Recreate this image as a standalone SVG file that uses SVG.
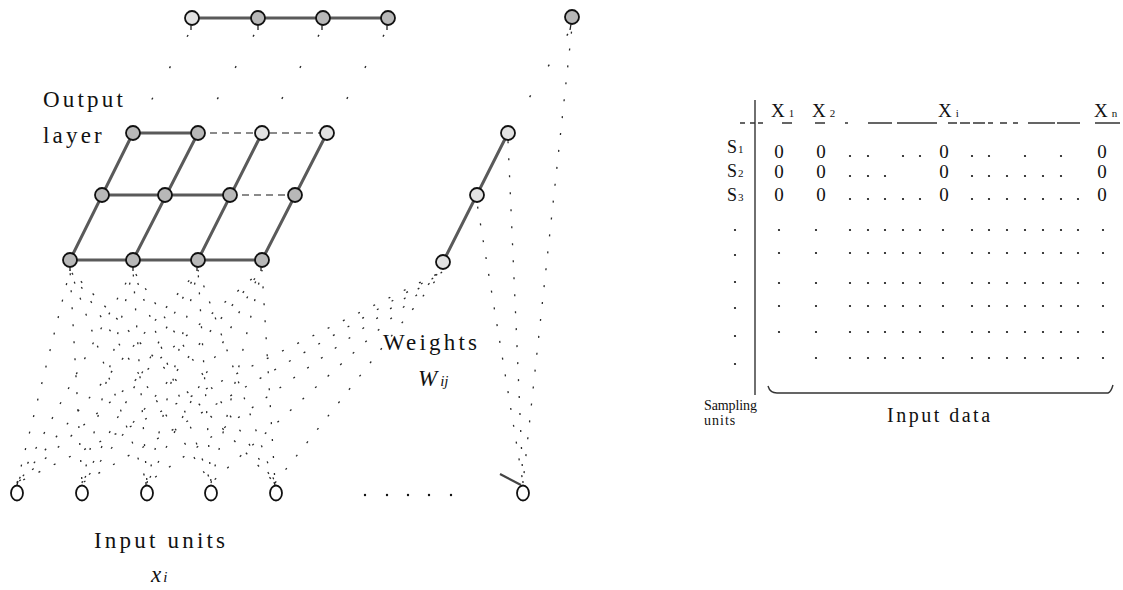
<svg xmlns="http://www.w3.org/2000/svg" width="1123" height="590" viewBox="0 0 1123 590">
<style>
.bg{fill:#fff}
.lbl{font-family:"Liberation Serif","DejaVu Serif",serif;fill:#111}
.big{font-size:23px;letter-spacing:3.2px}
.tb{font-size:19px}
.sb{font-size:18px}
.sub{font-size:11px}
.out{fill:#b8b8b8;stroke:#111;stroke-width:1.8}
.outl{fill:#e2e2e2;stroke:#111;stroke-width:1.8}
.inp{fill:#fff;stroke:#111;stroke-width:1.8}
.stem{stroke:#222;stroke-width:1.3;fill:none}
.link{stroke:#5a5a5a;stroke-width:3;stroke-linecap:round;fill:none}
.weak{stroke:#8a8a8a;stroke-width:2;stroke-dasharray:7 5;fill:none}
.w{stroke:#2a2a2a;stroke-width:1.3;stroke-dasharray:2 15;fill:none}
.sp{stroke:#2a2a2a;stroke-width:1.4;stroke-dasharray:2 34;fill:none}
.dot{fill:#111}
.rule{stroke:#333;stroke-width:1.4;fill:none}
</style>
<rect class="bg" x="0" y="0" width="1123" height="590"/>

<g id="connectors">
  <line class="link" x1="192" y1="18" x2="388" y2="18"/>
  <line class="sp" x1="192" y1="28" x2="133" y2="133" stroke-dashoffset="-8"/>
  <line class="sp" x1="258" y1="28" x2="198" y2="133" stroke-dashoffset="-8"/>
  <line class="sp" x1="323" y1="28" x2="262" y2="133" stroke-dashoffset="-8"/>
  <line class="sp" x1="388" y1="28" x2="327" y2="133" stroke-dashoffset="-8"/>
  <line class="sp" x1="572" y1="27" x2="508" y2="133" stroke-dashoffset="-8"/>
  <line class="link" x1="133" y1="133" x2="198" y2="133"/>
  <line class="weak" x1="198" y1="133" x2="327" y2="133"/>
  <line class="link" x1="102" y1="195" x2="230" y2="195"/>
  <line class="weak" x1="230" y1="195" x2="295" y2="195"/>
  <line class="link" x1="70" y1="260" x2="262" y2="260"/>
  <line class="link" x1="70" y1="260" x2="133" y2="133"/>
  <line class="link" x1="133" y1="260" x2="198" y2="133"/>
  <line class="link" x1="198" y1="260" x2="262" y2="133"/>
  <line class="link" x1="262" y1="260" x2="327" y2="133"/>
  <line class="link" x1="443" y1="262" x2="508" y2="133"/>
  <g id="weights">
    <line class="w" x1="17" y1="483" x2="70" y2="270"/>
    <line class="w" x1="17" y1="483" x2="133" y2="270" stroke-dashoffset="-5"/>
    <line class="w" x1="17" y1="483" x2="198" y2="270" stroke-dashoffset="-9"/>
    <line class="w" x1="17" y1="483" x2="262" y2="270" stroke-dashoffset="-3"/>
    <line class="w" x1="17" y1="483" x2="443" y2="271" stroke-dashoffset="-7"/>
    <line class="w" x1="82" y1="483" x2="70" y2="270" stroke-dashoffset="-4"/>
    <line class="w" x1="82" y1="483" x2="133" y2="270"/>
    <line class="w" x1="82" y1="483" x2="198" y2="270" stroke-dashoffset="-6"/>
    <line class="w" x1="82" y1="483" x2="262" y2="270" stroke-dashoffset="-11"/>
    <line class="w" x1="82" y1="483" x2="443" y2="271" stroke-dashoffset="-2"/>
    <line class="w" x1="147" y1="483" x2="70" y2="270" stroke-dashoffset="-8"/>
    <line class="w" x1="147" y1="483" x2="133" y2="270" stroke-dashoffset="-3"/>
    <line class="w" x1="147" y1="483" x2="198" y2="270"/>
    <line class="w" x1="147" y1="483" x2="262" y2="270" stroke-dashoffset="-6"/>
    <line class="w" x1="147" y1="483" x2="443" y2="271" stroke-dashoffset="-10"/>
    <line class="w" x1="211" y1="483" x2="70" y2="270" stroke-dashoffset="-12"/>
    <line class="w" x1="211" y1="483" x2="133" y2="270" stroke-dashoffset="-7"/>
    <line class="w" x1="211" y1="483" x2="198" y2="270" stroke-dashoffset="-2"/>
    <line class="w" x1="211" y1="483" x2="262" y2="270"/>
    <line class="w" x1="211" y1="483" x2="443" y2="271" stroke-dashoffset="-5"/>
    <line class="w" x1="275" y1="483" x2="70" y2="270" stroke-dashoffset="-6"/>
    <line class="w" x1="275" y1="483" x2="133" y2="270" stroke-dashoffset="-11"/>
    <line class="w" x1="275" y1="483" x2="198" y2="270" stroke-dashoffset="-4"/>
    <line class="w" x1="275" y1="483" x2="262" y2="270" stroke-dashoffset="-8"/>
    <line class="w" x1="275" y1="483" x2="443" y2="271"/>
    <line class="w" x1="523" y1="483" x2="477" y2="203" stroke-dashoffset="-6"/>
    <line class="w" x1="523" y1="483" x2="508" y2="141"/>
    <line class="w" x1="523" y1="483" x2="572" y2="27" stroke-dashoffset="-10"/>
    <line x1="500" y1="474" x2="521" y2="485" stroke="#444" stroke-width="2.2"/>
  </g>
</g>

<g id="top-row">
  <g id="t1"><circle class="outl" cx="192" cy="18" r="7"/><path class="stem" d="M191,25 l0,5"/></g>
  <g id="t2"><circle class="out" cx="258" cy="18" r="7"/><path class="stem" d="M258,25 l0,5"/></g>
  <g id="t3"><circle class="out" cx="323" cy="18" r="7"/><path class="stem" d="M322,25 l0,5"/></g>
  <g id="t4"><circle class="out" cx="388" cy="18" r="7"/><path class="stem" d="M387,25 l0,5"/></g>
  <g id="t5"><circle class="out" cx="572" cy="17" r="7"/><path class="stem" d="M571,24 l-1,6"/></g>
</g>

<g id="output-layer">
  <g id="g11"><circle class="out" cx="133" cy="133" r="7"/></g>
  <g id="g12"><circle class="out" cx="198" cy="133" r="7"/></g>
  <g id="g13"><circle class="outl" cx="262" cy="133" r="7"/></g>
  <g id="g14"><circle class="outl" cx="327" cy="133" r="7"/></g>
  <g id="g21"><circle class="out" cx="102" cy="195" r="7"/></g>
  <g id="g22"><circle class="out" cx="165" cy="195" r="7"/></g>
  <g id="g23"><circle class="out" cx="230" cy="195" r="7"/></g>
  <g id="g24"><circle class="out" cx="295" cy="195" r="7"/></g>
  <g id="g31"><circle class="out" cx="70" cy="260" r="7"/><path class="stem" d="M70,267 l0,4"/></g>
  <g id="g32"><circle class="out" cx="133" cy="260" r="7"/><path class="stem" d="M133,267 l0,4"/></g>
  <g id="g33"><circle class="out" cx="198" cy="260" r="7"/><path class="stem" d="M197,267 l0,4"/></g>
  <g id="g34"><circle class="out" cx="262" cy="260" r="7"/><path class="stem" d="M261,267 l0,4"/></g>
  <g id="r1"><circle class="outl" cx="508" cy="133" r="7"/></g>
  <g id="r2"><circle class="outl" cx="477" cy="195" r="7"/></g>
  <g id="r3"><circle class="outl" cx="443" cy="262" r="7"/></g>
</g>

<g id="input-units">
  <g id="i1"><ellipse class="inp" cx="17" cy="493" rx="6" ry="7.5"/><path class="stem" d="M17,485 l1,-4"/></g>
  <g id="i2"><ellipse class="inp" cx="82" cy="493" rx="6" ry="7.5"/></g>
  <g id="i3"><ellipse class="inp" cx="147" cy="493" rx="6" ry="7.5"/><path class="stem" d="M146,485 l0,-3"/></g>
  <g id="i4"><ellipse class="inp" cx="211" cy="493" rx="6" ry="7.5"/></g>
  <g id="i5"><ellipse class="inp" cx="276" cy="493" rx="6" ry="7.5"/><path class="stem" d="M275,485 l-1,-3"/></g>
  <g id="i6"><ellipse class="inp" cx="523" cy="493" rx="6" ry="7.5"/></g>
  <g id="ellipsis">
    <circle class="dot" cx="365" cy="495" r="1.2"/><circle class="dot" cx="387" cy="495" r="1.2"/>
    <circle class="dot" cx="408" cy="495" r="1.2"/><circle class="dot" cx="429" cy="495" r="1.2"/>
    <circle class="dot" cx="451" cy="495" r="1.2"/>
  </g>
</g>

<g id="labels" class="lbl">
  <text class="lbl big" x="43" y="107">Output</text>
  <text class="lbl big" x="43" y="143">layer</text>
  <text class="lbl big" x="383" y="350">Weights</text>
  <text class="lbl" x="418" y="386" font-size="23" font-style="italic">W<tspan font-size="15" dx="3">ij</tspan></text>
  <text class="lbl big" x="94" y="548">Input units</text>
  <text class="lbl" x="151" y="582" font-size="23" font-style="italic">x<tspan font-size="15" dx="2">i</tspan></text>
</g>

<g id="table" class="lbl">
  <line class="rule" x1="755" y1="100" x2="755" y2="395"/>
  <path class="rule" stroke-width="1.1" d="M740,123h5M750,123h5M758,123h5M782,123h10M815,123h10M845,123h3M868,123h24M897,123h40M948,123h9M960,123h10M973,123h12M988,123h5M1000,123h7M1013,123h5M1028,123h27M1057,123h23M1095,123h25"/>
  <text class="tb" x="771" y="117">X<tspan class="sub" dx="4">1</tspan></text>
  <text class="tb" x="812" y="117">X<tspan class="sub" dx="4">2</tspan></text>
  <text class="tb" x="938" y="117">X<tspan class="sub" dx="4">i</tspan></text>
  <text class="tb" x="1094" y="117">X<tspan class="sub" dx="4">n</tspan></text>
  <text class="sb" x="727" y="153">S<tspan class="sub" dx="1">1</tspan></text>
  <text class="sb" x="727" y="177">S<tspan class="sub" dx="1">2</tspan></text>
  <text class="sb" x="727" y="201">S<tspan class="sub" dx="1">3</tspan></text>
  <g text-anchor="middle">
    <text class="tb" x="779" y="158">0</text><text class="tb" x="821" y="158">0</text><text class="tb" x="944" y="158">0</text><text class="tb" x="1102" y="158">0</text>
    <text class="tb" x="779" y="178">0</text><text class="tb" x="821" y="178">0</text><text class="tb" x="944" y="178">0</text><text class="tb" x="1102" y="178">0</text>
    <text class="tb" x="779" y="201">0</text><text class="tb" x="821" y="201">0</text><text class="tb" x="944" y="201">0</text><text class="tb" x="1102" y="201">0</text>
  </g>
  <g id="row-dots">
    <circle class="dot" cx="850" cy="156" r="1.1"/><circle class="dot" cx="868" cy="156" r="1.1"/><circle class="dot" cx="903" cy="156" r="1.1"/><circle class="dot" cx="920" cy="156" r="1.1"/>
    <circle class="dot" cx="972" cy="156" r="1.1"/><circle class="dot" cx="989" cy="156" r="1.1"/><circle class="dot" cx="1025" cy="156" r="1.1"/><circle class="dot" cx="1061" cy="156" r="1.1"/>
    <circle class="dot" cx="850" cy="176" r="1.1"/><circle class="dot" cx="868" cy="176" r="1.1"/><circle class="dot" cx="885" cy="176" r="1.1"/>
    <circle class="dot" cx="972" cy="176" r="1.1"/><circle class="dot" cx="989" cy="176" r="1.1"/><circle class="dot" cx="1007" cy="176" r="1.1"/><circle class="dot" cx="1025" cy="176" r="1.1"/><circle class="dot" cx="1043" cy="176" r="1.1"/><circle class="dot" cx="1061" cy="176" r="1.1"/>
    <circle class="dot" cx="850" cy="199" r="1.1"/><circle class="dot" cx="868" cy="199" r="1.1"/><circle class="dot" cx="885" cy="199" r="1.1"/><circle class="dot" cx="903" cy="199" r="1.1"/><circle class="dot" cx="920" cy="199" r="1.1"/>
    <circle class="dot" cx="972" cy="199" r="1.1"/><circle class="dot" cx="989" cy="199" r="1.1"/><circle class="dot" cx="1007" cy="199" r="1.1"/><circle class="dot" cx="1025" cy="199" r="1.1"/><circle class="dot" cx="1043" cy="199" r="1.1"/><circle class="dot" cx="1061" cy="199" r="1.1"/><circle class="dot" cx="1078" cy="199" r="1.1"/>
  </g>
  <g id="grid-dots" fill="#111">
    <g id="dr1"><circle cx="779" cy="230" r="1.1"/><circle cx="816" cy="230" r="1.1"/><circle cx="850" cy="230" r="1.1"/><circle cx="868" cy="230" r="1.1"/><circle cx="885" cy="230" r="1.1"/><circle cx="903" cy="230" r="1.1"/><circle cx="920" cy="230" r="1.1"/><circle cx="943" cy="230" r="1.1"/><circle cx="972" cy="230" r="1.1"/><circle cx="989" cy="230" r="1.1"/><circle cx="1007" cy="230" r="1.1"/><circle cx="1025" cy="230" r="1.1"/><circle cx="1043" cy="230" r="1.1"/><circle cx="1061" cy="230" r="1.1"/><circle cx="1078" cy="230" r="1.1"/><circle cx="1103" cy="230" r="1.1"/></g>
    <use href="#dr1" y="23"/>
    <use href="#dr1" y="53"/>
    <use href="#dr1" y="76"/>
    <use href="#dr1" y="102"/>
    <g><circle cx="816" cy="358" r="1.1"/><circle cx="850" cy="358" r="1.1"/><circle cx="868" cy="358" r="1.1"/><circle cx="885" cy="358" r="1.1"/><circle cx="903" cy="358" r="1.1"/><circle cx="920" cy="358" r="1.1"/><circle cx="943" cy="358" r="1.1"/><circle cx="972" cy="358" r="1.1"/><circle cx="989" cy="358" r="1.1"/><circle cx="1007" cy="358" r="1.1"/><circle cx="1025" cy="358" r="1.1"/><circle cx="1043" cy="358" r="1.1"/><circle cx="1061" cy="358" r="1.1"/><circle cx="1078" cy="358" r="1.1"/><circle cx="1103" cy="358" r="1.1"/></g>
    <circle cx="735" cy="230" r="1.1"/><circle cx="735" cy="255" r="1.1"/><circle cx="735" cy="282" r="1.1"/><circle cx="735" cy="308" r="1.1"/><circle cx="735" cy="336" r="1.1"/><circle cx="735" cy="364" r="1.1"/>
  </g>
  <path class="rule" d="M768,386 Q770,393 777,393 L1108,393 Q1111,392 1113,385"/>
  <text class="lbl" x="704" y="410" font-size="14" textLength="53">Sampling</text>
  <text class="lbl" x="704" y="425" font-size="14" letter-spacing="1">units</text>
  <text class="lbl" x="887" y="422" font-size="20" letter-spacing="2.5">Input data</text>
</g>
</svg>
